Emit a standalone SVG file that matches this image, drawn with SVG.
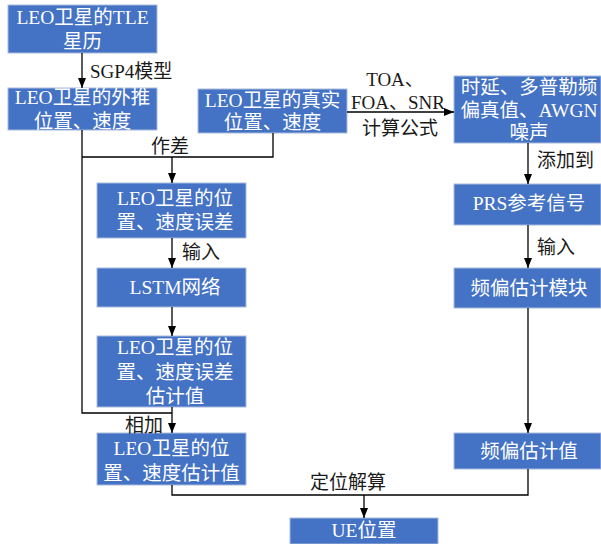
<svg xmlns="http://www.w3.org/2000/svg" width="601" height="544" viewBox="0 0 601 544">
<defs>
<marker id="arr" markerUnits="userSpaceOnUse" markerWidth="10" markerHeight="10" viewBox="0 0 10 10" refX="10" refY="5" orient="auto">
<path d="M0,1 L10,5 L0,9 Z" fill="#000"/>
</marker>
</defs>
<style>
.box{fill:#4472C4;stroke:#a9bbdd;stroke-width:1}
.t{font-family:"Liberation Serif","Noto Sans CJK SC",serif;font-size:19.5px;fill:#fff;text-anchor:middle}
.l{font-family:"Liberation Serif","Noto Sans CJK SC",serif;font-size:19px;fill:#1a1a1a}
.c{fill:none;stroke:#000;stroke-width:1.3}
</style>
<rect width="601" height="544" fill="#fff"/>
<g id="n1"><rect class="box" x="8" y="5" width="149" height="48"/><text class="t" x="82.5" y="24">LEO卫星的TLE</text><text class="t" x="82.5" y="48">星历</text></g>
<g id="n2"><rect class="box" x="8" y="88" width="149" height="42"/><text class="t" x="82.5" y="104">LEO卫星的外推</text><text class="t" x="82.5" y="128">位置、速度</text></g>
<g id="n3"><rect class="box" x="198" y="89" width="149" height="44"/><text class="t" x="272.5" y="107">LEO卫星的真实</text><text class="t" x="272.5" y="129">位置、速度</text></g>
<g id="n4"><rect class="box" x="454" y="76" width="147" height="67"/><text class="t" x="529" y="94">时延、多普勒频</text><text class="t" x="529" y="117">偏真值、AWGN</text><text class="t" x="529" y="139">噪声</text></g>
<g id="n5"><rect class="box" x="97" y="183" width="149" height="55"/><text class="t" x="175" y="205">LEO卫星的位</text><text class="t" x="175" y="229">置、速度误差</text></g>
<g id="n6"><rect class="box" x="97" y="268" width="149" height="39"/><text class="t" x="175" y="294">LSTM网络</text></g>
<g id="n7"><rect class="box" x="97" y="336" width="149" height="71"/><text class="t" x="175" y="354">LEO卫星的位</text><text class="t" x="175" y="379">置、速度误差</text><text class="t" x="175" y="403">估计值</text></g>
<g id="n8"><rect class="box" x="97" y="433" width="149" height="52"/><text class="t" x="171.5" y="455">LEO卫星的位</text><text class="t" x="171.5" y="480">置、速度估计值</text></g>
<g id="n9"><rect class="box" x="454" y="184" width="147" height="41"/><text class="t" x="529" y="210">PRS参考信号</text></g>
<g id="n10"><rect class="box" x="454" y="268" width="147" height="40"/><text class="t" x="529" y="295">频偏估计模块</text></g>
<g id="n11"><rect class="box" x="454" y="433" width="147" height="36"/><text class="t" x="529" y="458">频偏估计值</text></g>
<g id="n12"><rect class="box" x="290" y="518" width="148" height="26"/><text class="t" x="364" y="537">UE位置</text></g>
<g id="connectors">
<path class="c" d="M82,53 V88" marker-end="url(#arr)"/>
<path class="c" d="M82,130 V413 H172"/>
<path class="c" d="M273,133 V157 H82"/>
<path class="c" d="M172,157 V183" marker-end="url(#arr)"/>
<path class="c" d="M172,238 V268" marker-end="url(#arr)"/>
<path class="c" d="M172,307 V336" marker-end="url(#arr)"/>
<path class="c" d="M172,407 V433" marker-end="url(#arr)"/>
<path class="c" d="M347,112 H454" marker-end="url(#arr)"/>
<path class="c" d="M528,143 V184" marker-end="url(#arr)"/>
<path class="c" d="M528,225 V268" marker-end="url(#arr)"/>
<path class="c" d="M528,308 V433" marker-end="url(#arr)"/>
<path class="c" d="M528,469 V495 H172 V485"/>
<path class="c" d="M364,495 V518" marker-end="url(#arr)"/>
<text class="l" x="90" y="78">SGP4模型</text>
<text class="l" x="170" y="153" text-anchor="middle">作差</text>
<text class="l" x="395" y="86" text-anchor="middle">TOA、</text>
<text class="l" x="398" y="109" text-anchor="middle">FOA、SNR</text>
<text class="l" x="400" y="135" text-anchor="middle">计算公式</text>
<text class="l" x="537" y="167">添加到</text>
<text class="l" x="182" y="259">输入</text>
<text class="l" x="537" y="254">输入</text>
<text class="l" x="125" y="432">相加</text>
<text class="l" x="310" y="489">定位解算</text>
</g>
</svg>
